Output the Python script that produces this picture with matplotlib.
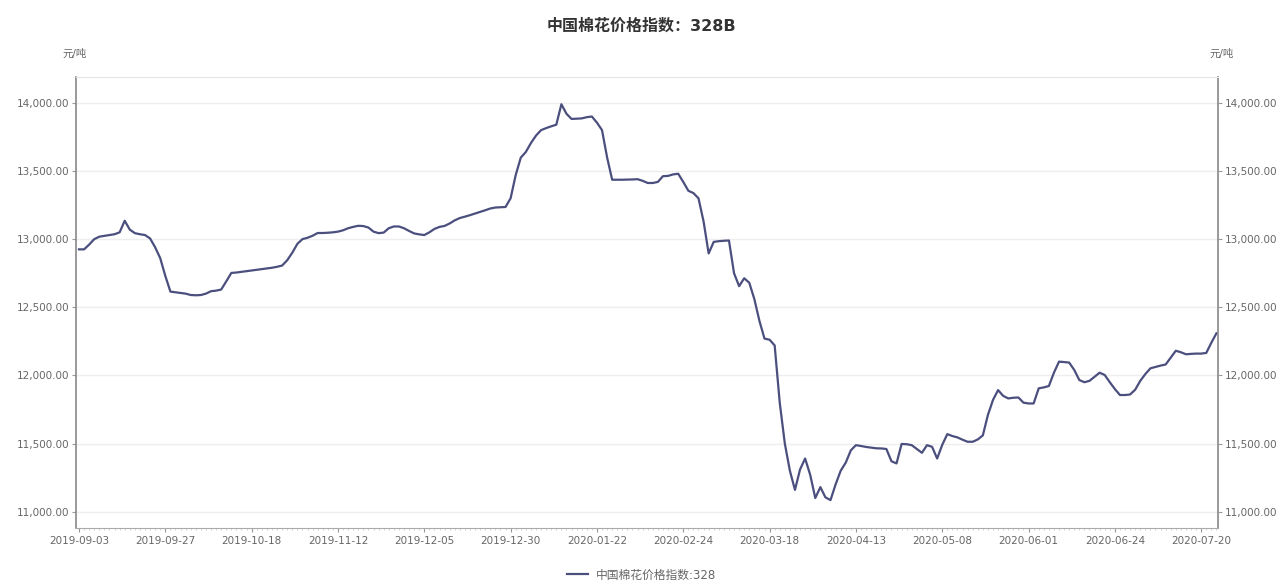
import matplotlib
matplotlib.use("Agg")
import matplotlib.pyplot as plt
from matplotlib.ticker import FuncFormatter, MultipleLocator

plt.rcParams['font.family'] = ['DejaVu Sans', 'Noto Sans CJK SC']

# 中国棉花价格指数 328 (元/吨), one value per trading day
values = [
    12925, 12925, 12960, 13000, 13018, 13024, 13030, 13036, 13050, 13135,
    13070, 13044, 13036, 13030, 13005, 12940, 12860, 12730, 12615, 12610,
    12605, 12600, 12590, 12588, 12590, 12600, 12618, 12622, 12630, 12690,
    12752, 12755, 12760, 12765, 12770, 12775, 12780, 12785, 12790, 12797,
    12806, 12845, 12900, 12965, 13000, 13010, 13025, 13045, 13045, 13047,
    13050, 13055, 13065, 13080, 13090, 13098, 13096, 13085, 13055, 13044,
    13048, 13080, 13093, 13093, 13080, 13060, 13042, 13035, 13030, 13050,
    13075, 13090, 13097, 13115, 13138, 13155, 13165, 13176, 13188, 13200,
    13212, 13225, 13232, 13234, 13236, 13300, 13470, 13598, 13640, 13705,
    13760, 13800, 13815, 13828, 13840, 13990, 13920, 13882, 13884, 13886,
    13895, 13900, 13855, 13800, 13600, 13436, 13436, 13436, 13437, 13438,
    13440, 13428, 13412, 13412, 13420, 13462, 13464, 13475, 13480, 13420,
    13355, 13338, 13300, 13130, 12895, 12980, 12985, 12988, 12990, 12750,
    12655, 12713, 12680, 12560, 12400, 12270, 12262, 12220, 11800, 11500,
    11300, 11160, 11310, 11390, 11270, 11100, 11180, 11105, 11085, 11200,
    11300, 11360, 11450, 11488, 11482, 11475, 11470, 11465, 11464, 11460,
    11370, 11354, 11497, 11495, 11488, 11460, 11432, 11488, 11476, 11390,
    11490, 11569, 11555, 11545, 11528, 11513, 11513, 11530, 11560, 11710,
    11820, 11892, 11850, 11831, 11836, 11838, 11800, 11794, 11794, 11905,
    11912, 11922, 12020, 12101, 12098, 12094, 12040, 11966, 11950, 11960,
    11990, 12020, 12003, 11950, 11900, 11856, 11856, 11860, 11895, 11960,
    12010, 12052, 12062, 12072, 12080, 12130, 12181, 12170, 12155, 12158,
    12160, 12160, 12165, 12240, 12309,
]

tick_labels = [
    "2019-09-03", "2019-09-27", "2019-10-18", "2019-11-12", "2019-12-05",
    "2019-12-30", "2020-01-22", "2020-02-24", "2020-03-18", "2020-04-13",
    "2020-05-08", "2020-06-01", "2020-06-24", "2020-07-20",
]
tick_step = 17

title = "中国棉花价格指数：328B"
series_name = "中国棉花价格指数:328"
unit = "元/吨"

line_color = "#4b4f7e"
text_color = "#666666"

fig = plt.figure(figsize=(12.83, 5.85), dpi=100)
ax = fig.add_axes([0.0592, 0.0974, 0.8901, 0.771])

x = list(range(len(values)))
line, = ax.plot(x, values, color=line_color, lw=1.6, solid_joinstyle='round')

ax.set_xlim(-0.6, len(values) - 0.7)
ax.set_ylim(10880, 14190)
ax.yaxis.set_major_locator(MultipleLocator(500))
ax.yaxis.set_major_formatter(FuncFormatter(lambda v, p: f"{v:,.2f}"))

ax.set_xticks([i * tick_step for i in range(len(tick_labels))])
ax.set_xticklabels(tick_labels)
ax.set_xticks(x, minor=True)

ax.grid(axis='y', color='#eeeeee', lw=1)
ax.set_axisbelow(True)

ax.tick_params(axis='y', which='both', left=True, right=True,
               labelleft=True, labelright=True, length=3,
               color='#999999', labelsize=7.5, labelcolor=text_color, pad=2)
ax.tick_params(axis='x', which='major', length=3, color='#999999',
               labelsize=7.5, labelcolor=text_color, pad=3)
ax.tick_params(axis='x', which='minor', length=1.5, color='#cccccc')

for side in ('left', 'right'):
    ax.spines[side].set_color('#888888')
    ax.spines[side].set_linewidth(1.2)
ax.spines['bottom'].set_color('#aaaaaa')
ax.spines['top'].set_color('#e6e6e6')

fig.text(0.5, 0.955, title, ha='center', va='center', fontsize=11.5,
         fontweight='bold', color='#333333')
fig.text(0.0585, 0.908, unit, ha='center', va='center', fontsize=7.5,
         color=text_color)
fig.text(0.952, 0.908, unit, ha='center', va='center', fontsize=7.5,
         color=text_color)

fig.legend([line], [series_name], loc='center', bbox_to_anchor=(0.5, 0.017),
           frameon=False, fontsize=8.5, labelcolor=text_color,
           handlelength=1.8, handletextpad=0.6)

fig.savefig("out.png", dpi=100)
